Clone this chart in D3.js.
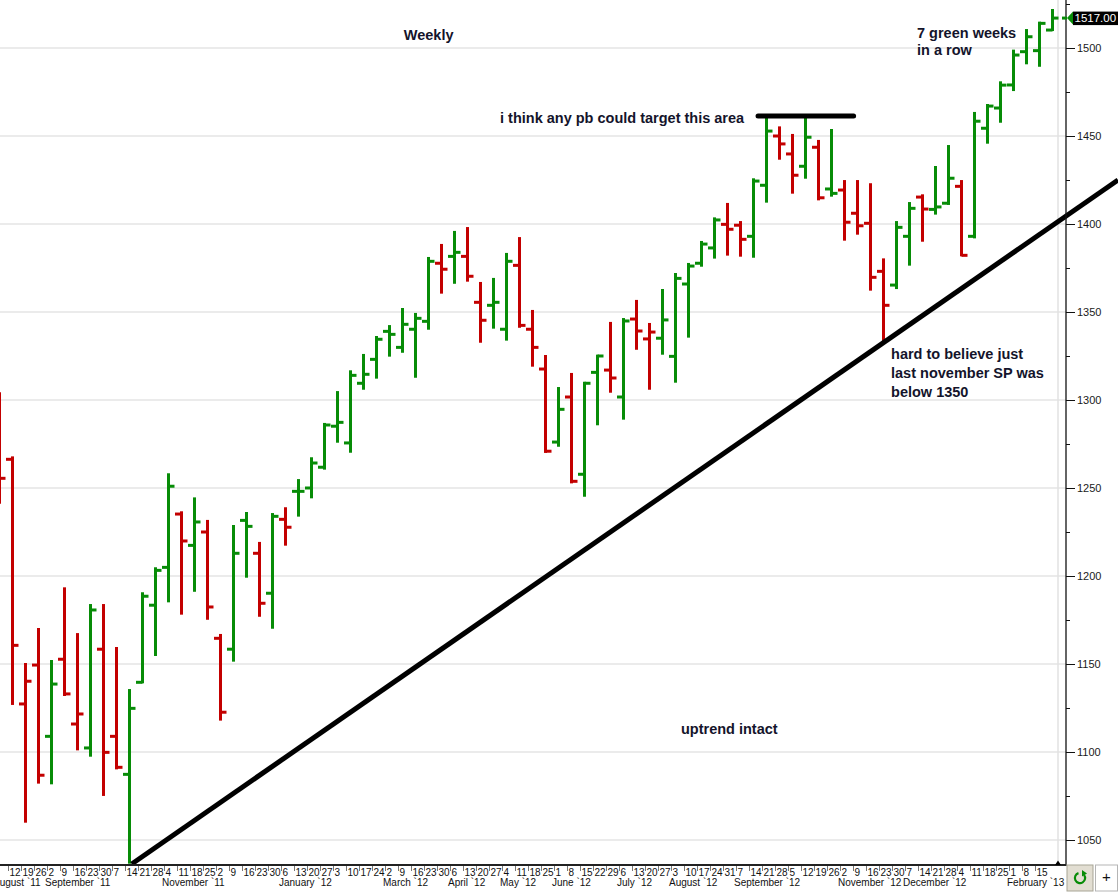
<!DOCTYPE html>
<html>
<head>
<meta charset="utf-8">
<script src="https://cdn.jsdelivr.net/npm/d3@7"></script>
<style>
  body { margin: 0; background: #fff; }
  svg { display: block; }
</style>
</head>
<body>
<div id="chart"></div>
<script>
// weekly bars, one entry per week (Friday date)
const weeks = [
  '2011-08-05', '2011-08-12', '2011-08-19', '2011-08-26',
  '2011-09-02', '2011-09-09', '2011-09-16', '2011-09-23', '2011-09-30',
  '2011-10-07', '2011-10-14', '2011-10-21', '2011-10-28',
  '2011-11-04', '2011-11-11', '2011-11-18', '2011-11-25',
  '2011-12-02', '2011-12-09', '2011-12-16', '2011-12-23', '2011-12-30',
  '2012-01-06', '2012-01-13', '2012-01-20', '2012-01-27',
  '2012-02-03', '2012-02-10', '2012-02-17', '2012-02-24',
  '2012-03-02', '2012-03-09', '2012-03-16', '2012-03-23', '2012-03-30',
  '2012-04-06', '2012-04-13', '2012-04-20', '2012-04-27',
  '2012-05-04', '2012-05-11', '2012-05-18', '2012-05-25',
  '2012-06-01', '2012-06-08', '2012-06-15', '2012-06-22', '2012-06-29',
  '2012-07-06', '2012-07-13', '2012-07-20', '2012-07-27',
  '2012-08-03', '2012-08-10', '2012-08-17', '2012-08-24', '2012-08-31',
  '2012-09-07', '2012-09-14', '2012-09-21', '2012-09-28',
  '2012-10-05', '2012-10-12', '2012-10-19', '2012-10-26',
  '2012-11-02', '2012-11-09', '2012-11-16', '2012-11-23', '2012-11-30',
  '2012-12-07', '2012-12-14', '2012-12-21', '2012-12-28',
  '2013-01-04', '2013-01-11', '2013-01-18', '2013-01-25',
  '2013-02-01', '2013-02-08', '2013-02-15', '2013-02-22'
];

const opens = [
  1290.0, 1266.3, 1127.3, 1149.4, 1108.9, 1152.7, 1115.9, 1102.3, 1158.4, 1108.9,
  1087.3, 1139.6, 1183.4, 1204.9, 1235.2, 1217.4, 1225.0, 1164.6, 1158.4, 1231.6,
  1212.9, 1190.2, 1232.2, 1248.1, 1250.0, 1261.8, 1285.1, 1275.6, 1309.5, 1323.1,
  1339.0, 1329.9, 1340.2, 1344.7, 1377.7, 1381.6, 1381.6, 1355.5, 1353.8, 1340.2,
  1376.5, 1340.2, 1317.6, 1276.1, 1301.7, 1257.8, 1315.7, 1317.0, 1301.7, 1346.0,
  1334.7, 1335.1, 1324.8, 1365.9, 1377.7, 1386.4, 1399.8, 1399.3, 1393.0, 1422.0,
  1450.0, 1439.8, 1432.8, 1443.6, 1419.9, 1419.3, 1406.1, 1400.4, 1373.1, 1365.3,
  1393.0, 1415.3, 1408.3, 1411.8, 1421.4, 1393.0, 1454.4, 1465.9, 1479.0, 1497.9,
  1498.5, 1510.2
];

const highs = [
  1303.8, 1267.4, 1150.0, 1169.9, 1151.7, 1193.0, 1167.0, 1183.5, 1183.5, 1159.1,
  1135.2, 1190.2, 1204.4, 1257.8, 1236.2, 1244.1, 1231.3, 1166.5, 1228.4, 1235.8,
  1218.8, 1235.2, 1238.5, 1254.5, 1266.9, 1286.4, 1304.5, 1316.3, 1325.6, 1335.8,
  1342.0, 1351.7, 1348.9, 1380.7, 1388.1, 1395.5, 1397.7, 1366.5, 1368.8, 1383.0,
  1392.0, 1350.6, 1325.0, 1306.8, 1314.8, 1309.8, 1325.2, 1343.8, 1346.0, 1356.3,
  1343.2, 1362.5, 1371.6, 1377.3, 1389.8, 1403.2, 1411.4, 1401.1, 1425.4, 1460.1,
  1454.9, 1450.6, 1460.1, 1447.2, 1453.4, 1424.4, 1424.4, 1422.6, 1379.9, 1401.1,
  1411.9, 1416.3, 1432.4, 1444.3, 1424.4, 1463.1, 1467.6, 1480.5, 1498.5, 1510.2,
  1514.4, 1521.6
];

const lows = [
  1241.6, 1127.3, 1060.4, 1082.6, 1082.2, 1132.4, 1101.5, 1097.9, 1075.6, 1090.7,
  1037.1, 1139.6, 1155.1, 1185.6, 1178.6, 1191.6, 1175.7, 1118.4, 1151.9, 1199.6,
  1177.4, 1170.6, 1217.8, 1234.3, 1244.7, 1261.0, 1276.3, 1270.6, 1306.4, 1312.7,
  1325.2, 1327.4, 1313.2, 1340.5, 1361.0, 1366.6, 1367.8, 1333.1, 1341.1, 1334.3,
  1341.6, 1319.5, 1270.5, 1274.0, 1253.2, 1245.6, 1286.2, 1304.7, 1289.4, 1329.1,
  1306.4, 1326.3, 1310.4, 1336.0, 1376.3, 1380.9, 1382.6, 1382.0, 1381.4, 1412.7,
  1437.1, 1417.8, 1426.3, 1414.0, 1416.1, 1391.1, 1394.5, 1362.7, 1333.5, 1363.6,
  1376.9, 1390.5, 1405.9, 1411.4, 1382.2, 1392.4, 1446.2, 1458.1, 1476.1, 1491.3,
  1489.9, 1510.2
];

const closes = [
  1255.5, 1160.6, 1140.2, 1086.8, 1138.6, 1133.0, 1121.6, 1180.7, 1099.8, 1091.3,
  1124.8, 1188.5, 1203.2, 1251.0, 1219.9, 1230.7, 1182.4, 1122.6, 1212.9, 1228.2,
  1184.5, 1233.9, 1227.7, 1248.1, 1264.2, 1285.8, 1287.3, 1314.0, 1314.6, 1334.5,
  1337.3, 1343.0, 1346.4, 1378.8, 1374.3, 1383.9, 1370.3, 1345.3, 1355.5, 1378.8,
  1342.4, 1329.9, 1270.9, 1294.7, 1253.8, 1309.5, 1325.0, 1312.5, 1344.9, 1339.2,
  1338.6, 1345.5, 1369.1, 1376.1, 1388.6, 1402.3, 1397.0, 1391.3, 1424.4, 1452.8,
  1445.5, 1427.7, 1449.3, 1414.9, 1417.4, 1401.0, 1399.0, 1369.7, 1353.8, 1398.1,
  1408.9, 1408.5, 1409.7, 1426.0, 1382.2, 1458.4, 1467.0, 1478.9, 1496.0, 1506.4,
  1514.0, 1517.0
];

const yTicks = [1050, 1100, 1150, 1200, 1250, 1300, 1350, 1400, 1450, 1500];
const yMinorTicks = [1075, 1125, 1175, 1225, 1275, 1325, 1375, 1425, 1475, 1525];
const lastPrice = 1517.00;

// drawn lines, as [week index, price]
const trendLine = [[10.17, 1036.4], [86.04, 1425.0]];
const targetLine = [[58.35, 1461.4], [65.7, 1461.4]];

// notes, as [week index, price at baseline, text]
const notes = [
  [31.1, 1504.5, 'Weekly'],
  [38.5, 1457.4, 'i think any pb could target this area'],
  [70.58, 1505.9, '7 green weeks'],
  [70.58, 1496.0, 'in a row'],
  [68.58, 1323.3, 'hard to believe just'],
  [68.58, 1312.5, 'last november SP was'],
  [68.58, 1301.7, 'below 1350'],
  [52.42, 1110.2, 'uptrend intact']
];

function barChart() {
  const width = 1118;
  const height = 892;
  const plotRight = 1066;
  const plotBottom = 864;
  const up = '#078c07';
  const down = '#c30000';
  const ink = '#14142b';

  function chart(selection) {
    selection.each(function() {
      const parseDate = d3.timeParse('%Y-%m-%d');
      const bars = weeks.map((w, i) => ({
        i,
        date: parseDate(w),
        open: opens[i],
        high: highs[i],
        low: lows[i],
        close: closes[i],
        up: closes[i] >= (i ? closes[i - 1] : opens[i])
      }));

      const x = d3.scaleLinear()
          .domain([0, weeks.length - 1])
          .range([-0.5, 1052.5]);

      const y = d3.scaleLinear()
          .domain([1050, 1500])
          .range([840, 48]);

      const svg = d3.select(this).append('svg')
          .attr('width', width)
          .attr('height', height)
          .style('background', '#fff');

      // grid
      svg.append('g')
        .selectAll('line')
        .data(yTicks)
        .join('line')
          .attr('x1', 0)
          .attr('x2', plotRight)
          .attr('y1', d => y(d))
          .attr('y2', d => y(d))
          .attr('stroke', '#e4e4e4')
          .attr('stroke-width', 1.3);

      // cursor line at the last bar
      const cursorX = x(weeks.length - 1) + 5.5;
      svg.append('line')
          .attr('x1', cursorX)
          .attr('x2', cursorX)
          .attr('y1', 0)
          .attr('y2', plotBottom)
          .attr('stroke', '#e2e2e2')
          .attr('stroke-width', 1.5);

      drawBars(svg, bars, x, y);
      drawLines(svg, x, y);
      drawNotes(svg, x, y);
      drawYAxis(svg, y);
      drawXAxis(svg, bars, x);
      drawLastPrice(svg, y, cursorX);
      drawButtons(svg);
    });
  }

  function drawBars(svg, bars, x, y) {
    const g = svg.append('g')
        .attr('stroke-width', 3);

    const bar = g.selectAll('g')
      .data(bars)
      .join('g')
        .attr('stroke', d => d.up ? up : down)
        .attr('transform', d => `translate(${x(d.i)},0)`);

    bar.append('line')
        .attr('y1', d => y(d.high) - 1)
        .attr('y2', d => y(d.low) + 1);

    bar.append('line')
        .attr('x1', -6.5)
        .attr('x2', 0)
        .attr('y1', d => y(d.open))
        .attr('y2', d => y(d.open));

    bar.append('line')
        .attr('x1', 0)
        .attr('x2', 6)
        .attr('y1', d => y(d.close))
        .attr('y2', d => y(d.close));
  }

  function drawLines(svg, x, y) {
    const line = d3.line()
        .x(d => x(d[0]))
        .y(d => y(d[1]));

    svg.append('path')
        .attr('d', line(trendLine))
        .attr('fill', 'none')
        .attr('stroke', '#000')
        .attr('stroke-width', 5);

    svg.append('path')
        .attr('d', line(targetLine))
        .attr('fill', 'none')
        .attr('stroke', '#000')
        .attr('stroke-width', 5)
        .attr('stroke-linecap', 'round');
  }

  function drawNotes(svg, x, y) {
    svg.append('g')
        .attr('font-family', '"Liberation Sans", Arial, sans-serif')
        .attr('font-weight', 'bold')
        .attr('font-size', 14.5)
        .attr('fill', ink)
      .selectAll('text')
      .data(notes)
      .join('text')
        .attr('x', d => x(d[0]))
        .attr('y', d => y(d[1]))
        .text(d => d[2]);
  }

  function drawYAxis(svg, y) {
    const axis = svg.append('g')
        .attr('transform', `translate(${plotRight},0)`);

    axis.append('line')
        .attr('y1', 0)
        .attr('y2', plotBottom + 2)
        .attr('stroke', '#111')
        .attr('stroke-width', 1.3);

    axis.append('g')
        .call(d3.axisRight(y)
            .tickValues(yMinorTicks)
            .tickSize(4)
            .tickFormat(''))
        .call(g => g.select('.domain').remove())
        .call(g => g.selectAll('line').attr('stroke', '#111'));

    axis.append('g')
        .call(d3.axisRight(y)
            .tickValues(yTicks)
            .tickSize(9)
            .tickPadding(2)
            .tickFormat(d3.format('d')))
        .call(g => g.select('.domain').remove())
        .call(g => g.selectAll('line').attr('stroke', '#111'))
        .call(g => g.selectAll('text')
            .attr('font-family', '"Liberation Sans", Arial, sans-serif')
            .attr('font-size', 11)
            .attr('fill', '#1a1a1a'));
  }

  function drawXAxis(svg, bars, x) {
    const g = svg.append('g')
        .attr('font-family', '"Liberation Sans", Arial, sans-serif')
        .attr('font-size', 10)
        .attr('fill', '#111');

    g.append('line')
        .attr('x1', 0)
        .attr('x2', plotRight)
        .attr('y1', plotBottom + 1)
        .attr('y2', plotBottom + 1)
        .attr('stroke', '#222')
        .attr('stroke-width', 2);

    // the running week gets no label, nor a week whose label falls off the left edge
    const labelled = bars.filter((d, i) => i < bars.length - 1 && x(d.i) - 3 >= 0);

    g.append('g')
        .attr('stroke', '#777')
      .selectAll('line')
      .data(bars.slice(0, -1))
      .join('line')
        .attr('x1', d => x(d.i) - 4)
        .attr('x2', d => x(d.i) - 4)
        .attr('y1', plotBottom + 2)
        .attr('y2', plotBottom + 7);

    g.append('g')
      .selectAll('text')
      .data(labelled)
      .join('text')
        .attr('x', d => x(d.i) - 3)
        .attr('y', plotBottom + 11.5)
        .text(d => d.date.getDate());

    // month names, left aligned at the first week, dropped when they collide
    const monthFormat = d3.timeFormat('%B `%y');
    const firsts = bars.filter((d, i) => i === 0 ||
        d.date.getMonth() !== bars[i - 1].date.getMonth());

    const months = g.append('g');
    let lastEnd = -Infinity;
    firsts.forEach(d => {
      const left = x(d.i) - 6.5;
      if (left < lastEnd) return;
      const t = months.append('text')
          .attr('x', left)
          .attr('y', plotBottom + 21.5)
          .text(monthFormat(d.date));
      lastEnd = left + t.node().getComputedTextLength();
    });

    // cursor marker on the axis
    const cx = x(bars.length - 1) + 5.5;
    g.append('path')
        .attr('d', `M${cx},${plotBottom - 3.5}l-3,4.5h6z`)
        .attr('fill', '#000');
  }

  function drawLastPrice(svg, y, cursorX) {
    const py = y(lastPrice);
    const g = svg.append('g');

    g.append('line')
        .attr('x1', cursorX + 4)
        .attr('x2', plotRight + 1)
        .attr('y1', py)
        .attr('y2', py)
        .attr('stroke', up)
        .attr('stroke-width', 3);

    g.append('path')
        .attr('d', `M${plotRight + 1},${py}l6,-6.5v13z`)
        .attr('fill', up);

    g.append('rect')
        .attr('x', plotRight + 7)
        .attr('y', py - 6.5)
        .attr('width', width - plotRight - 7)
        .attr('height', 13.5)
        .attr('fill', '#000');

    g.append('text')
        .attr('x', plotRight + 8.5)
        .attr('y', py + 4)
        .attr('font-family', '"Liberation Sans", Arial, sans-serif')
        .attr('font-size', 11.5)
        .attr('fill', '#fff')
        .text(d3.format('.2f')(lastPrice));
  }

  function drawButtons(svg) {
    const g = svg.append('g');

    g.append('rect')
        .attr('x', plotRight + 1)
        .attr('y', plotBottom + 1)
        .attr('width', 26)
        .attr('height', 26)
        .attr('fill', '#e2ded2')
        .attr('stroke', '#a8a596');

    g.append('path')
        .attr('d', d3.arc()({
          innerRadius: 4,
          outerRadius: 6.2,
          startAngle: 0.9,
          endAngle: 2 * Math.PI - 0.3
        }))
        .attr('transform', `translate(${plotRight + 14},${plotBottom + 14})`)
        .attr('fill', up);

    g.append('path')
        .attr('d', `M${plotRight + 16},${plotBottom + 6}l5,3.5l-5,3z`)
        .attr('fill', up);

    g.append('rect')
        .attr('x', plotRight + 29.5)
        .attr('y', plotBottom + 1)
        .attr('width', width - plotRight - 30)
        .attr('height', 26)
        .attr('fill', '#fff')
        .attr('stroke', '#b5b5b5');

    g.append('text')
        .attr('x', plotRight + 40.5)
        .attr('y', plotBottom + 18)
        .attr('text-anchor', 'middle')
        .attr('font-family', '"Liberation Sans", Arial, sans-serif')
        .attr('font-size', 15)
        .attr('fill', '#111')
        .text('+');
  }

  return chart;
}

d3.select('#chart').call(barChart());
</script>
</body>
</html>
